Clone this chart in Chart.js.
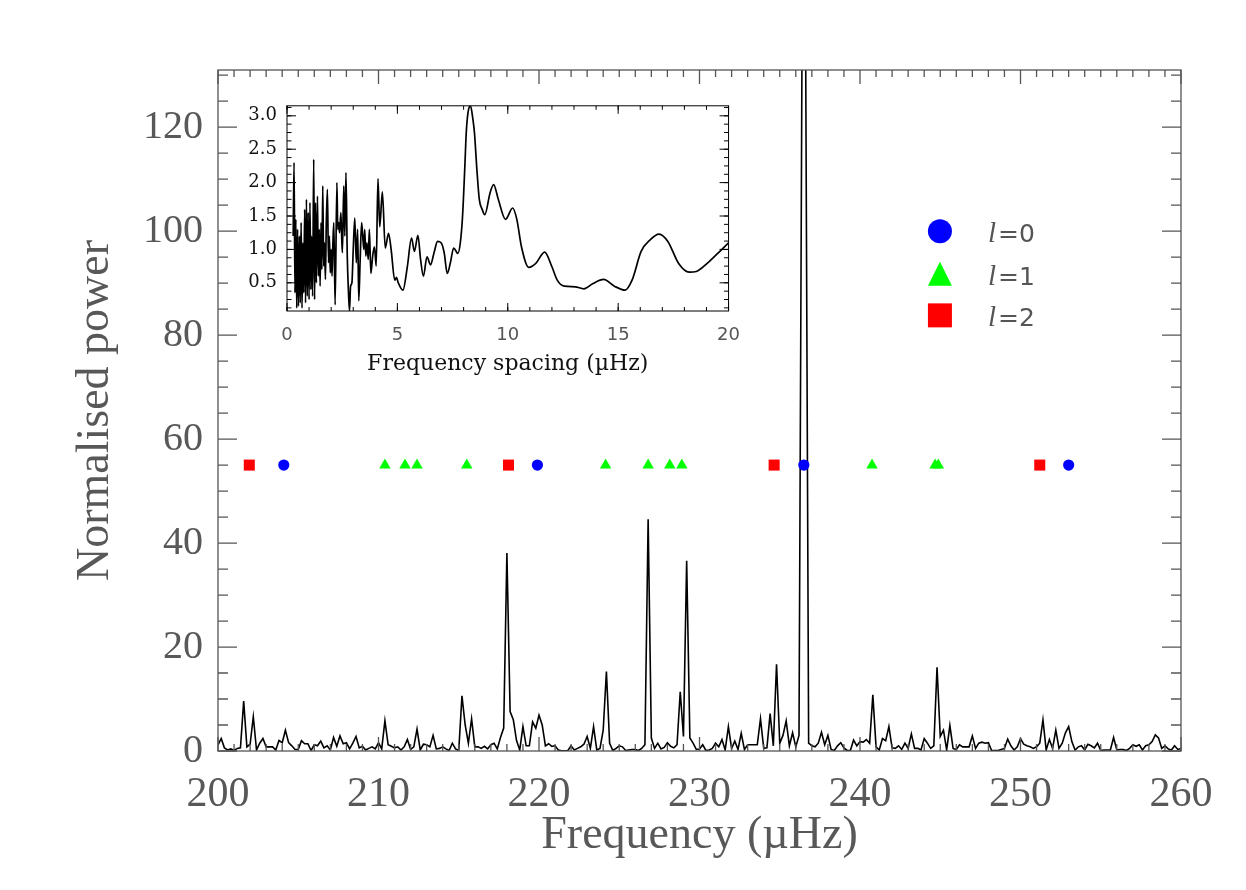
<!DOCTYPE html>
<html>
<head>
<meta charset="utf-8">
<script src="https://cdn.jsdelivr.net/npm/chart.js@4.4.1/dist/chart.umd.min.js"></script>
<style>
  html, body { margin: 0; padding: 0; background: #ffffff; overflow: hidden; }
  #wrap { position: relative; width: 1246px; height: 890px; background: #ffffff; }
  #main { position: absolute; left: 0; top: 0; }
  #inset { position: absolute; left: 220px; top: 85px; }
</style>
</head>
<body>
<div id="wrap">
  <canvas id="main" width="1246" height="890"></canvas>
  <canvas id="inset" width="534" height="295"></canvas>
</div>
<script>
// ---------------- DATA ----------------
// Main power spectrum: bins of 0.2 µHz starting at 200 µHz
const FREQ_START = 200;
const FREQ_STEP = 0.2;
const power = [
  1.2, 2.4, 0.6, 0.2, 0.4, 0.1, 0.5, 0.6, 9.6, 0.8,
  1.3, 6.6, 0.2, 1.5, 2.4, 0.8, 0.8, 0.8, 0.2, 2.0,
  1.6, 4.0, 1.6, 1.0, 0.3, 0.3, 2.0, 1.4, 1.4, 0.1,
  1.2, 1.0, 1.9, 0.6, 1.0, 0.2, 2.6, 0.9, 2.9, 1.4,
  1.6, 0.4, 1.5, 2.8, 0.6, 0.9, 0.2, 0.5, 0.8, 0.4,
  1.6, 0.4, 5.8, 1.2, 0.9, 0.6, 0.8, 0.2, 0.8, 2.2,
  0.3, 0.8, 4.2, 0.2, 1.3, 1.2, 0.8, 3.0, 0.4, 0.5,
  0.8, 0.4, 0.1, 1.5, 0.4, 0.1, 10.6, 5.0, 1.5, 6.2,
  0.8, 0.8, 0.5, 0.9, 0.4, 1.2, 1.5, 0.4, 2.6, 4.4,
  38.1, 7.6, 6.0, 2.0, 0.2, 4.7, 1.0, 1.0, 5.6, 4.4,
  6.9, 5.0, 1.0, 1.4, 0.9, 1.0, 0.2, 0.05, 0.05, 0.1,
  1.0, 0.2, 0.5, 0.8, 1.3, 2.8, 0.5, 4.7, 0.2, 0.5,
  4.0, 15.3, 1.5, 0.1, 0.5, 1.0, 0.8, 0.1, 0.2, 0.3,
  0.3, 0.1, 0.5, 1.2, 44.6, 2.5, 0.5, 1.5, 0.4, 0.7,
  1.6, 0.9, 0.6, 1.2, 11.4, 2.8, 36.6, 2.5, 1.5, 0.3,
  0.4, 1.2, 0.1, 0.2, 0.5, 1.5, 0.8, 2.2, 0.2, 4.7,
  0.5, 1.9, 0.3, 3.4, 0.3, 1.2, 1.2, 1.2, 1.2, 6.2,
  0.5, 0.6, 7.2, 1.0, 16.7, 1.5, 3.0, 5.8, 1.0, 3.5,
  0.8, 3.0, 145, 145, 1.5, 1.0, 0.8, 1.5, 3.6, 1.2,
  3.0, 0.3, 0.1, 1.0, 1.6, 0.6, 0.1, 0.1, 2.1, 1.0,
  1.8, 1.7, 2.2, 1.5, 10.8, 0.8, 0.2, 2.4, 2.0, 4.7,
  0.6, 0.5, 1.0, 0.3, 1.5, 0.5, 3.3, 0.5, 0.5, 0.2,
  2.4, 1.5, 0.5, 1.0, 16.1, 2.8, 4.0, 0.2, 4.9, 0.5,
  0.3, 1.2, 0.8, 0.8, 0.8, 2.9, 0.5, 1.5, 1.7, 1.5,
  1.6, 0.1, 0.1, 0.1, 0.3, 0.5, 2.3, 1.0, 0.2, 0.8,
  2.4, 1.3, 1.0, 0.8, 0.5, 0.8, 1.5, 6.0, 0.2, 2.2,
  0.5, 4.0, 0.5, 1.5, 3.5, 4.7, 1.8, 0.2, 0.8, 1.0,
  0.2, 1.3, 1.0, 0.6, 1.5, 0.1, 0.2, 0.2, 0.2, 2.6,
  0.2, 0.3, 0.3, 0.1, 0.5, 1.2, 0.9, 1.2, 0.2, 1.0,
  1.2, 1.8, 3.1, 2.5, 0.5, 1.0, 0.4, 0.2, 1.0, 0.3,
  0.5
];

// Identified mode frequencies (µHz), plotted at a fixed power level
const modeL0 = [204.1, 219.9, 236.5, 253.0];
const modeL1 = [210.4, 211.65, 212.4, 215.5, 224.15, 226.8, 228.15, 228.9, 240.75, 244.68, 244.88];
const modeL2 = [201.95, 218.1, 234.65, 251.2];
const MODE_LEVEL = 55;
const degreeLabels = ['0', '1', '2'];

// Inset: power spectrum of the power spectrum vs frequency spacing
const spacing = [
  0.28, 0.32, 0.36, 0.40, 0.44, 0.48, 0.52, 0.56, 0.60, 0.64,
  0.68, 0.72, 0.76, 0.80, 0.84, 0.88, 0.92, 0.96, 1.00, 1.04,
  1.08, 1.12, 1.16, 1.21, 1.25, 1.29, 1.33, 1.38, 1.42, 1.46,
  1.50, 1.54, 1.58, 1.62, 1.66, 1.70, 1.74, 1.78, 1.83, 1.88,
  1.92, 1.96, 2.00, 2.04, 2.08, 2.12, 2.18, 2.26, 2.30, 2.34,
  2.38, 2.44, 2.48, 2.51, 2.57, 2.62, 2.67, 2.73, 2.78, 2.83,
  2.88, 2.94, 3.00, 3.07, 3.14, 3.20, 3.25, 3.31, 3.38, 3.43,
  3.48, 3.52, 3.57, 3.62, 3.68, 3.73, 3.80, 3.88, 3.96, 4.04,
  4.12, 4.20, 4.32, 4.45, 4.60, 4.72, 4.88, 4.96, 5.04, 5.25,
  5.45, 5.64, 5.77, 5.93, 6.05, 6.18, 6.34, 6.50, 6.66, 6.82,
  6.98, 7.12, 7.26, 7.40, 7.55, 7.74, 7.85, 7.95, 8.05, 8.12,
  8.20, 8.31, 8.42, 8.49, 8.60, 8.71, 8.84, 8.96, 9.20, 9.36,
  9.57, 9.90, 10.22, 10.41, 10.62, 10.95, 11.27, 11.67, 12.00, 12.24,
  12.56, 13.05, 13.45, 13.86, 14.34, 14.83, 15.31, 15.63, 16.04, 16.44,
  16.85, 17.25, 17.74, 18.22, 18.54, 19.03, 19.51, 20.00
];
const spacingPower = [
  1.20, 2.30, 0.35, 1.45, 0.12, 1.30, 0.15, 1.20, 0.20, 1.40,
  0.12, 1.10, 0.35, 1.60, 0.20, 1.75, 0.30, 1.55, 0.25, 1.70,
  0.40, 1.20, 0.30, 2.35, 0.25, 1.70, 0.50, 1.80, 0.60, 1.30,
  0.45, 1.40, 0.70, 1.95, 0.75, 1.10, 0.55, 1.40, 1.90, 0.80,
  1.20, 0.65, 1.00, 0.60, 1.10, 1.40, 0.17, 2.00, 1.30, 1.40,
  1.25, 1.55, 1.15, 0.95, 1.95, 1.20, 2.15, 0.90, 0.40, 0.08,
  0.45, 0.50, 1.00, 1.47, 0.80, 1.30, 0.23, 0.80, 1.40, 1.20,
  1.00, 1.30, 0.90, 1.10, 0.85, 1.30, 0.64, 0.90, 1.04, 0.75,
  2.06, 1.34, 1.86, 1.02, 1.24, 0.99, 0.54, 0.58, 0.50, 0.39,
  0.74, 1.17, 0.97, 1.21, 0.85, 0.60, 0.89, 0.77, 0.95, 1.12,
  1.10, 0.95, 0.64, 0.80, 1.02, 0.94, 1.10, 1.49, 2.20, 2.75,
  3.05, 3.15, 2.95, 2.75, 2.20, 1.75, 1.60, 1.52, 1.85, 1.97,
  1.75, 1.45, 1.62, 1.45, 1.04, 0.73, 0.79, 0.96, 0.74, 0.54,
  0.45, 0.44, 0.41, 0.49, 0.55, 0.45, 0.39, 0.54, 0.97, 1.14,
  1.23, 1.12, 0.79, 0.66, 0.67, 0.79, 0.94, 1.10
];

// ---------------- PLUGINS ----------------
// IDL-style box with inward ticks on all four sides, placed by the chart's scales
const idlFrame = {
  id: 'idlFrame',
  afterDatasetsDraw(chart, args, o) {
    const { ctx, chartArea: a, scales } = chart;
    const xs = scales.x, ys = scales.y;
    ctx.save();
    ctx.strokeStyle = o.color;
    ctx.lineWidth = o.width;
    ctx.beginPath();
    const xTicks = (step, len) => {
      const n0 = Math.ceil(xs.min / step - 1e-6), n1 = Math.floor(xs.max / step + 1e-6);
      for (let i = n0; i <= n1; i++) {
        const px = xs.getPixelForValue(i * step);
        ctx.moveTo(px, a.bottom); ctx.lineTo(px, a.bottom - len);
        ctx.moveTo(px, a.top); ctx.lineTo(px, a.top + len);
      }
    };
    const yTicks = (step, len) => {
      const n0 = Math.ceil(ys.min / step - 1e-6), n1 = Math.floor(ys.max / step + 1e-6);
      for (let i = n0; i <= n1; i++) {
        const py = ys.getPixelForValue(i * step);
        ctx.moveTo(a.left, py); ctx.lineTo(a.left + len, py);
        ctx.moveTo(a.right, py); ctx.lineTo(a.right - len, py);
      }
    };
    xTicks(o.xMinor, o.xMinLen);
    xTicks(o.xMajor, o.xMajLen);
    yTicks(o.yMinor, o.yMinLen);
    yTicks(o.yMajor, o.yMajLen);
    ctx.stroke();
    ctx.strokeRect(a.left, a.top, a.right - a.left, a.bottom - a.top);
    ctx.restore();
  }
};

// Legend for the mode symbols, placed inside the plot using the scales
const modeLegend = {
  id: 'modeLegend',
  afterDatasetsDraw(chart, args, o) {
    const { ctx, scales: { x, y } } = chart;
    const mx = x.getPixelForValue(o.markerX);
    const tx = x.getPixelForValue(o.textX);
    o.items.forEach(it => {
      const cy = y.getPixelForValue(it.y);
      const s = o.half;
      ctx.save();
      ctx.fillStyle = it.color;
      ctx.beginPath();
      if (it.shape === 'circle') {
        ctx.arc(mx, cy, s, 0, Math.PI * 2);
      } else if (it.shape === 'triangle') {
        ctx.moveTo(mx, cy - s); ctx.lineTo(mx + s, cy + s); ctx.lineTo(mx - s, cy + s); ctx.closePath();
      } else {
        ctx.rect(mx - s, cy - s, 2 * s, 2 * s);
      }
      ctx.fill();
      ctx.fillStyle = o.textColor;
      ctx.textAlign = 'left';
      ctx.textBaseline = 'alphabetic';
      ctx.font = o.italicFont;
      ctx.fillText('l', tx, cy + o.baseline);
      ctx.font = o.font;
      ctx.fillText('=' + it.label, tx + o.gap, cy + o.baseline);
      ctx.restore();
    });
  }
};

// ---------------- MAIN CHART ----------------
const TEXT_GREY = '#585858';
const spectrumPoints = power.map((p, i) => ({ x: FREQ_START + i * FREQ_STEP, y: p }));
const asModePoints = arr => arr.map(f => ({ x: f, y: MODE_LEVEL }));

new Chart(document.getElementById('main'), {
  type: 'scatter',
  data: {
    datasets: [
      { label: 'l=2', data: asModePoints(modeL2), pointStyle: 'rect', pointRadius: 7.8,
        backgroundColor: '#ff0000', borderWidth: 0, pointBorderWidth: 0, order: 1 },
      { label: 'l=1', data: asModePoints(modeL1), pointStyle: 'triangle', pointRadius: 6.6,
        backgroundColor: '#00ff00', borderWidth: 0, pointBorderWidth: 0, order: 1 },
      { label: 'l=0', data: asModePoints(modeL0), pointStyle: 'circle', pointRadius: 5.6,
        backgroundColor: '#0000ff', borderWidth: 0, pointBorderWidth: 0, order: 1 },
      { label: 'spectrum', data: spectrumPoints, showLine: true, borderColor: '#000000',
        borderWidth: 1.6, pointRadius: 0, tension: 0, order: 2 }
    ]
  },
  options: {
    responsive: false,
    animation: false,
    devicePixelRatio: 1,
    events: [],
    layout: { padding: { left: 68, top: 70, right: 65, bottom: 26 } },
    scales: {
      x: {
        type: 'linear', min: 200, max: 260, position: 'bottom',
        afterFit: s => { s.height = 113; },
        grid: { display: false, drawTicks: false },
        border: { display: false },
        ticks: { stepSize: 10, padding: 19, color: TEXT_GREY, maxRotation: 0, autoSkip: false,
                 font: { family: '"Liberation Serif"', size: 42 }, callback: v => String(v) },
        title: { display: true, text: 'Frequency (µHz)', color: TEXT_GREY,
                 font: { family: '"Liberation Serif"', size: 46 }, padding: { top: 0, bottom: 0 } }
      },
      y: {
        type: 'linear', min: 0, max: 131,
        afterFit: s => { s.width = 150; },
        grid: { display: false, drawTicks: false },
        border: { display: false },
        ticks: { stepSize: 20, includeBounds: false, padding: 15, color: TEXT_GREY,
                 font: { family: '"Liberation Serif"', size: 40 }, callback: v => String(v) },
        title: { display: true, text: 'Normalised power', color: TEXT_GREY,
                 font: { family: '"Liberation Serif"', size: 46 }, padding: { top: 0, bottom: 0 } }
      }
    },
    plugins: {
      legend: { display: false },
      tooltip: { enabled: false },
      idlFrame: { color: '#555555', width: 1.3, xMajor: 10, xMinor: 1, yMajor: 20, yMinor: 5,
                  xMajLen: 14, xMinLen: 7, yMajLen: 19, yMinLen: 10 },
      modeLegend: {
        markerX: 244.98, textX: 247.98, half: 12, gap: 10, baseline: 11,
        textColor: '#555555',
        italicFont: 'italic 29px "Liberation Serif"',
        font: '25px "DejaVu Sans"',
        items: [
          { y: 100.0, shape: 'circle', color: '#0000ff', label: degreeLabels[0] },
          { y: 91.8, shape: 'triangle', color: '#00ff00', label: degreeLabels[1] },
          { y: 83.8, shape: 'rect', color: '#ff0000', label: degreeLabels[2] }
        ]
      }
    }
  },
  plugins: [idlFrame, modeLegend]
});

// ---------------- INSET CHART ----------------
new Chart(document.getElementById('inset'), {
  type: 'scatter',
  data: {
    datasets: [{
      data: spacing.map((s, i) => ({ x: s, y: spacingPower[i] })),
      showLine: true, borderColor: '#000000', borderWidth: 1.7, pointRadius: 0,
      tension: 0.4, cubicInterpolationMode: 'monotone'
    }]
  },
  options: {
    responsive: false,
    animation: false,
    devicePixelRatio: 1,
    events: [],
    layout: { padding: { left: 0, top: 0, right: 0, bottom: 0 } },
    scales: {
      x: {
        type: 'linear', min: 0, max: 20,
        afterFit: s => { s.height = 69; },
        grid: { display: false, drawTicks: false },
        border: { display: false },
        ticks: { stepSize: 5, padding: 14, color: '#555555', maxRotation: 0,
                 font: { family: '"DejaVu Sans"', size: 18 }, callback: v => String(v) },
        title: { display: true, text: 'Frequency spacing (µHz)', color: '#111111',
                 font: { family: '"DejaVu Serif"', size: 22 }, padding: { top: 0, bottom: 3 } }
      },
      y: {
        type: 'linear', min: 0.078, max: 3.15,
        afterFit: s => { s.width = 67; },
        grid: { display: false, drawTicks: false },
        border: { display: false },
        ticks: { stepSize: 0.5, includeBounds: false, padding: 10, color: '#111111',
                 font: { family: '"DejaVu Serif"', size: 18 }, callback: v => Number(v).toFixed(1) }
      }
    },
    plugins: {
      legend: { display: false },
      tooltip: { enabled: false },
      idlFrame: { color: '#000000', width: 1, xMajor: 5, xMinor: 1, yMajor: 0.5, yMinor: 0.125,
                  xMajLen: 8, xMinLen: 4, yMajLen: 9, yMinLen: 4.5 }
    }
  },
  plugins: [idlFrame]
});
</script>
</body>
</html>
